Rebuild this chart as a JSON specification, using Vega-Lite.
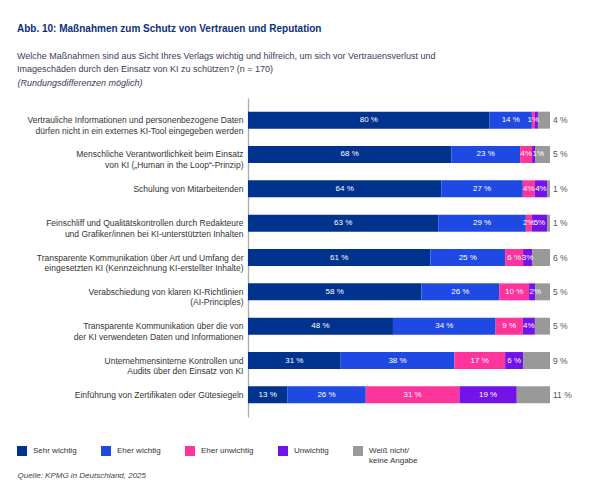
{
  "$schema": "https://vega.github.io/schema/vega-lite/v6.json",
  "width": 302,
  "height": 319,
  "autosize": {"type": "none"},
  "padding": {"left": 248, "top": 98, "right": 43, "bottom": 78},
  "config": {"font": "Liberation Sans", "view": {"stroke": null}},
  "title": {
    "text": "Abb. 10: Maßnahmen zum Schutz von Vertrauen und Reputation",
    "subtitle": ["Welche Maßnahmen sind aus Sicht Ihres Verlags wichtig und hilfreich, um sich vor Vertrauensverlust und", "Imageschäden durch den Einsatz von KI zu schützen? (n = 170)"],
    "anchor": "start", "frame": "group", "dx": -231, "offset": 4,
    "fontSize": 10, "fontWeight": "bold", "color": "#0b2f7f",
    "subtitleFontSize": 9, "subtitleColor": "#3b3b55", "subtitleLineHeight": 13.5, "subtitlePadding": 18
  },
  "data": {"values": [
    {"massnahme": "Vertrauliche Informationen und personenbezogene Daten|dürfen nicht in ein externes KI-Tool eingegeben werden", "antwort": "Sehr wichtig", "wert": 80, "ord": 1, "label": "80 %"},
    {"massnahme": "Vertrauliche Informationen und personenbezogene Daten|dürfen nicht in ein externes KI-Tool eingegeben werden", "antwort": "Eher wichtig", "wert": 14, "ord": 2, "label": "14 %"},
    {"massnahme": "Vertrauliche Informationen und personenbezogene Daten|dürfen nicht in ein externes KI-Tool eingegeben werden", "antwort": "Eher unwichtig", "wert": 1, "ord": 3, "label": "1%"},
    {"massnahme": "Vertrauliche Informationen und personenbezogene Daten|dürfen nicht in ein externes KI-Tool eingegeben werden", "antwort": "Unwichtig", "wert": 1, "ord": 4, "label": ""},
    {"massnahme": "Vertrauliche Informationen und personenbezogene Daten|dürfen nicht in ein externes KI-Tool eingegeben werden", "antwort": "Weiß nicht/keine Angabe", "wert": 4, "ord": 5, "label": "4 %"},
    {"massnahme": "Menschliche Verantwortlichkeit beim Einsatz|von KI („Human in the Loop“-Prinzip)", "antwort": "Sehr wichtig", "wert": 68, "ord": 1, "label": "68 %"},
    {"massnahme": "Menschliche Verantwortlichkeit beim Einsatz|von KI („Human in the Loop“-Prinzip)", "antwort": "Eher wichtig", "wert": 23, "ord": 2, "label": "23 %"},
    {"massnahme": "Menschliche Verantwortlichkeit beim Einsatz|von KI („Human in the Loop“-Prinzip)", "antwort": "Eher unwichtig", "wert": 4, "ord": 3, "label": "4%"},
    {"massnahme": "Menschliche Verantwortlichkeit beim Einsatz|von KI („Human in the Loop“-Prinzip)", "antwort": "Unwichtig", "wert": 1, "ord": 4, "label": "1%"},
    {"massnahme": "Menschliche Verantwortlichkeit beim Einsatz|von KI („Human in the Loop“-Prinzip)", "antwort": "Weiß nicht/keine Angabe", "wert": 5, "ord": 5, "label": "5 %"},
    {"massnahme": "Schulung von Mitarbeitenden", "antwort": "Sehr wichtig", "wert": 64, "ord": 1, "label": "64 %"},
    {"massnahme": "Schulung von Mitarbeitenden", "antwort": "Eher wichtig", "wert": 27, "ord": 2, "label": "27 %"},
    {"massnahme": "Schulung von Mitarbeitenden", "antwort": "Eher unwichtig", "wert": 4, "ord": 3, "label": "4%"},
    {"massnahme": "Schulung von Mitarbeitenden", "antwort": "Unwichtig", "wert": 4, "ord": 4, "label": "4%"},
    {"massnahme": "Schulung von Mitarbeitenden", "antwort": "Weiß nicht/keine Angabe", "wert": 1, "ord": 5, "label": "1 %"},
    {"massnahme": "Feinschliff und Qualitätskontrollen durch Redakteure|und Grafiker/innen bei KI-unterstützten Inhalten", "antwort": "Sehr wichtig", "wert": 63, "ord": 1, "label": "63 %"},
    {"massnahme": "Feinschliff und Qualitätskontrollen durch Redakteure|und Grafiker/innen bei KI-unterstützten Inhalten", "antwort": "Eher wichtig", "wert": 29, "ord": 2, "label": "29 %"},
    {"massnahme": "Feinschliff und Qualitätskontrollen durch Redakteure|und Grafiker/innen bei KI-unterstützten Inhalten", "antwort": "Eher unwichtig", "wert": 2, "ord": 3, "label": "2%"},
    {"massnahme": "Feinschliff und Qualitätskontrollen durch Redakteure|und Grafiker/innen bei KI-unterstützten Inhalten", "antwort": "Unwichtig", "wert": 5, "ord": 4, "label": "5%"},
    {"massnahme": "Feinschliff und Qualitätskontrollen durch Redakteure|und Grafiker/innen bei KI-unterstützten Inhalten", "antwort": "Weiß nicht/keine Angabe", "wert": 1, "ord": 5, "label": "1 %"},
    {"massnahme": "Transparente Kommunikation über Art und Umfang der|eingesetzten KI (Kennzeichnung KI-erstellter Inhalte)", "antwort": "Sehr wichtig", "wert": 61, "ord": 1, "label": "61 %"},
    {"massnahme": "Transparente Kommunikation über Art und Umfang der|eingesetzten KI (Kennzeichnung KI-erstellter Inhalte)", "antwort": "Eher wichtig", "wert": 25, "ord": 2, "label": "25 %"},
    {"massnahme": "Transparente Kommunikation über Art und Umfang der|eingesetzten KI (Kennzeichnung KI-erstellter Inhalte)", "antwort": "Eher unwichtig", "wert": 6, "ord": 3, "label": "6 %"},
    {"massnahme": "Transparente Kommunikation über Art und Umfang der|eingesetzten KI (Kennzeichnung KI-erstellter Inhalte)", "antwort": "Unwichtig", "wert": 3, "ord": 4, "label": "3%"},
    {"massnahme": "Transparente Kommunikation über Art und Umfang der|eingesetzten KI (Kennzeichnung KI-erstellter Inhalte)", "antwort": "Weiß nicht/keine Angabe", "wert": 6, "ord": 5, "label": "6 %"},
    {"massnahme": "Verabschiedung von klaren KI-Richtlinien|(AI-Principles)", "antwort": "Sehr wichtig", "wert": 58, "ord": 1, "label": "58 %"},
    {"massnahme": "Verabschiedung von klaren KI-Richtlinien|(AI-Principles)", "antwort": "Eher wichtig", "wert": 26, "ord": 2, "label": "26 %"},
    {"massnahme": "Verabschiedung von klaren KI-Richtlinien|(AI-Principles)", "antwort": "Eher unwichtig", "wert": 10, "ord": 3, "label": "10 %"},
    {"massnahme": "Verabschiedung von klaren KI-Richtlinien|(AI-Principles)", "antwort": "Unwichtig", "wert": 2, "ord": 4, "label": "2%"},
    {"massnahme": "Verabschiedung von klaren KI-Richtlinien|(AI-Principles)", "antwort": "Weiß nicht/keine Angabe", "wert": 5, "ord": 5, "label": "5 %"},
    {"massnahme": "Transparente Kommunikation über die von|der KI verwendeten Daten und Informationen", "antwort": "Sehr wichtig", "wert": 48, "ord": 1, "label": "48 %"},
    {"massnahme": "Transparente Kommunikation über die von|der KI verwendeten Daten und Informationen", "antwort": "Eher wichtig", "wert": 34, "ord": 2, "label": "34 %"},
    {"massnahme": "Transparente Kommunikation über die von|der KI verwendeten Daten und Informationen", "antwort": "Eher unwichtig", "wert": 9, "ord": 3, "label": "9 %"},
    {"massnahme": "Transparente Kommunikation über die von|der KI verwendeten Daten und Informationen", "antwort": "Unwichtig", "wert": 4, "ord": 4, "label": "4%"},
    {"massnahme": "Transparente Kommunikation über die von|der KI verwendeten Daten und Informationen", "antwort": "Weiß nicht/keine Angabe", "wert": 5, "ord": 5, "label": "5 %"},
    {"massnahme": "Unternehmensinterne Kontrollen und|Audits über den Einsatz von KI", "antwort": "Sehr wichtig", "wert": 31, "ord": 1, "label": "31 %"},
    {"massnahme": "Unternehmensinterne Kontrollen und|Audits über den Einsatz von KI", "antwort": "Eher wichtig", "wert": 38, "ord": 2, "label": "38 %"},
    {"massnahme": "Unternehmensinterne Kontrollen und|Audits über den Einsatz von KI", "antwort": "Eher unwichtig", "wert": 17, "ord": 3, "label": "17 %"},
    {"massnahme": "Unternehmensinterne Kontrollen und|Audits über den Einsatz von KI", "antwort": "Unwichtig", "wert": 6, "ord": 4, "label": "6 %"},
    {"massnahme": "Unternehmensinterne Kontrollen und|Audits über den Einsatz von KI", "antwort": "Weiß nicht/keine Angabe", "wert": 9, "ord": 5, "label": "9 %"},
    {"massnahme": "Einführung von Zertifikaten oder Gütesiegeln", "antwort": "Sehr wichtig", "wert": 13, "ord": 1, "label": "13 %"},
    {"massnahme": "Einführung von Zertifikaten oder Gütesiegeln", "antwort": "Eher wichtig", "wert": 26, "ord": 2, "label": "26 %"},
    {"massnahme": "Einführung von Zertifikaten oder Gütesiegeln", "antwort": "Eher unwichtig", "wert": 31, "ord": 3, "label": "31 %"},
    {"massnahme": "Einführung von Zertifikaten oder Gütesiegeln", "antwort": "Unwichtig", "wert": 19, "ord": 4, "label": "19 %"},
    {"massnahme": "Einführung von Zertifikaten oder Gütesiegeln", "antwort": "Weiß nicht/keine Angabe", "wert": 11, "ord": 5, "label": "11 %"}
  ]},
  "encoding": {
    "y": {
      "field": "massnahme", "type": "nominal",
      "sort": [
        "Vertrauliche Informationen und personenbezogene Daten|dürfen nicht in ein externes KI-Tool eingegeben werden",
        "Menschliche Verantwortlichkeit beim Einsatz|von KI („Human in the Loop“-Prinzip)",
        "Schulung von Mitarbeitenden",
        "Feinschliff und Qualitätskontrollen durch Redakteure|und Grafiker/innen bei KI-unterstützten Inhalten",
        "Transparente Kommunikation über Art und Umfang der|eingesetzten KI (Kennzeichnung KI-erstellter Inhalte)",
        "Verabschiedung von klaren KI-Richtlinien|(AI-Principles)",
        "Transparente Kommunikation über die von|der KI verwendeten Daten und Informationen",
        "Unternehmensinterne Kontrollen und|Audits über den Einsatz von KI",
        "Einführung von Zertifikaten oder Gütesiegeln"
      ],
      "scale": {"paddingInner": 0.506, "paddingOuter": 0.398},
      "axis": {
        "title": "(Rundungsdifferenzen möglich)",
        "titleAngle": 0, "titleX": -231, "titleY": -16, "titleAlign": "left", "titleBaseline": "middle",
        "titleFontStyle": "italic", "titleFontWeight": "normal", "titleFontSize": 9, "titleColor": "#3b3b55",
        "labelExpr": "split(datum.label, '|')",
        "labelFontSize": 8.5, "labelLineHeight": 10.5, "labelColor": "#333333", "labelPadding": 5, "labelLimit": 0,
        "ticks": false, "grid": false, "domainColor": "#aaaaaa", "domainWidth": 1.3
      }
    },
    "order": {"field": "ord", "type": "quantitative"}
  },
  "layer": [
    {
      "mark": {"type": "bar"},
      "encoding": {
        "x": {
          "field": "wert", "type": "quantitative", "stack": "normalize",
          "scale": {"domain": [0, 1]},
          "axis": {
            "title": "Quelle: KPMG in Deutschland, 2025",
            "titleX": -231, "titleY": 58, "titleAlign": "left", "titleBaseline": "middle", "titleAnchor": "start",
            "titleFontStyle": "italic", "titleFontWeight": "normal", "titleFontSize": 8, "titleColor": "#444444",
            "labels": false, "ticks": false, "domain": false, "grid": false
          }
        },
        "color": {
          "field": "antwort", "type": "nominal",
          "scale": {
            "domain": ["Sehr wichtig", "Eher wichtig", "Eher unwichtig", "Unwichtig", "Weiß nicht/keine Angabe"],
            "range": ["#00338D", "#1E49E2", "#FD349C", "#7213EA", "#999999"]
          },
          "legend": {
            "orient": "none", "legendX": -231, "legendY": 348, "direction": "horizontal", "title": null,
            "symbolType": "square", "symbolSize": 100, "symbolStrokeWidth": 0, "symbolOpacity": 1,
            "labelFontSize": 8, "labelLineHeight": 10, "labelColor": "#333333", "labelOffset": 6, "columnPadding": 24, "labelLimit": 0,
            "labelExpr": "datum.label == 'Weiß nicht/keine Angabe' ? ['Weiß nicht/', 'keine Angabe'] : [datum.label, ' ']"
          }
        }
      }
    },
    {
      "mark": {"type": "text", "color": "white", "fontSize": 8, "align": "center", "baseline": "middle"},
      "encoding": {
        "x": {"field": "wert", "type": "quantitative", "stack": "normalize", "bandPosition": 0.5},
        "detail": {"field": "antwort"},
        "text": {"condition": {"test": "datum.antwort === 'Weiß nicht/keine Angabe' || (datum.antwort === 'Unwichtig' && datum.wert <= 2)", "value": ""}, "field": "label"}
      }
    },
    {
      "mark": {"type": "text", "color": "white", "fontSize": 8, "align": "left", "baseline": "middle", "dx": 0.5},
      "encoding": {
        "x": {"field": "wert", "type": "quantitative", "stack": "normalize", "bandPosition": 0},
        "detail": {"field": "antwort"},
        "text": {"condition": {"test": "!(datum.antwort === 'Unwichtig' && datum.wert <= 2)", "value": ""}, "field": "label"}
      }
    },
    {
      "mark": {"type": "text", "color": "#555555", "fontSize": 8.5, "align": "left", "baseline": "middle", "dx": 3},
      "encoding": {
        "x": {"field": "wert", "type": "quantitative", "stack": "normalize"},
        "detail": {"field": "antwort"},
        "text": {"condition": {"test": "datum.antwort !== 'Weiß nicht/keine Angabe'", "value": ""}, "field": "label"}
      }
    }
  ]
}
